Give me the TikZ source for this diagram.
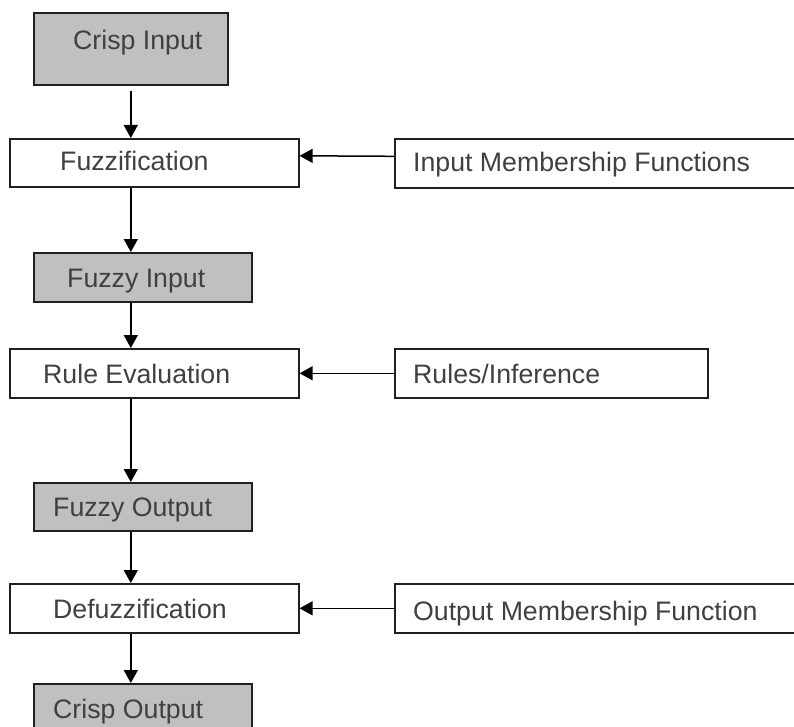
\documentclass[tikz,border=0pt]{standalone}
\usepackage{fontspec}
\setmainfont{Liberation Sans}
\usetikzlibrary{arrows.meta,calc}
\definecolor{boxgray}{HTML}{C0C0C0}
\definecolor{txtgray}{HTML}{404040}
\definecolor{linegray}{HTML}{202020}
\tikzset{
  boxw/.style={draw=linegray, line width=1.6pt, fill=white, inner sep=0pt, anchor=north west},
  boxg/.style={boxw, fill=boxgray},
  txt/.style={anchor=base west, inner sep=0pt, text=txtgray, font=\fontsize{26.7}{30}\selectfont},
  arr/.style={draw=black, line width=1.5pt, -{Triangle[width=14pt,length=13pt]}}
}
\newcommand{\mkbox}[9]{%
  \node[#9, minimum width={(#4-#2)*1pt}, minimum height={(#5-#3)*1pt}] (#1) at (#2,#3) {};
  \node[txt] (#1-t) at (#6,#7) {#8};
}
\begin{document}
\begin{tikzpicture}[x=1pt,y=-1pt]
\useasboundingbox (0,0) rectangle (794,727);
\clip (0,0) rectangle (794,727);
\fill[white] (0,0) rectangle (794,727);
\mkbox{ci}{33}{12}{227}{84}{73}{50}{Crisp Input}{boxg}
\mkbox{fz}{9}{138}{298}{186}{60}{171}{Fuzzification}{boxw}
\mkbox{imf}{394}{138}{810}{187}{413}{172}{Input Membership Functions}{boxw}
\mkbox{fi}{33}{252}{251}{301}{67}{287}{Fuzzy Input}{boxg}
\mkbox{re}{9}{348}{298}{397}{43}{383}{Rule Evaluation}{boxw}
\mkbox{ri}{394}{348}{707}{397}{413}{383}{Rules/Inference}{boxw}
\mkbox{fo}{33}{482}{251}{530}{53}{516}{Fuzzy Output}{boxg}
\mkbox{df}{9}{583}{298}{632}{53}{618}{Defuzzification}{boxw}
\mkbox{omf}{394}{583}{810}{632}{413}{620}{Output Membership Function}{boxw}
\mkbox{co}{33}{683}{251}{745}{53}{718}{Crisp Output}{boxg}
% vertical arrows at x = 130
\draw[arr, shorten <=5pt] (ci.south) -- (ci.south |- fz.north);
\draw[arr] (fz.south -| ci.south) -- (fi.north -| ci.south);
\draw[arr] (fi.south -| ci.south) -- (re.north -| ci.south);
\draw[arr] (re.south -| ci.south) -- (fo.north -| ci.south);
\draw[arr] (fo.south -| ci.south) -- (df.north -| ci.south);
\draw[arr] (df.south -| ci.south) -- (co.north -| ci.south);
% horizontal arrows
\draw[arr] ($(imf.west)+(0,-7)$) -- ($(fz.east)+(0,-7)$);
\draw[arr] (ri.west) -- (re.east);
\draw[arr] (omf.west) -- (df.east);
\end{tikzpicture}
\end{document}
